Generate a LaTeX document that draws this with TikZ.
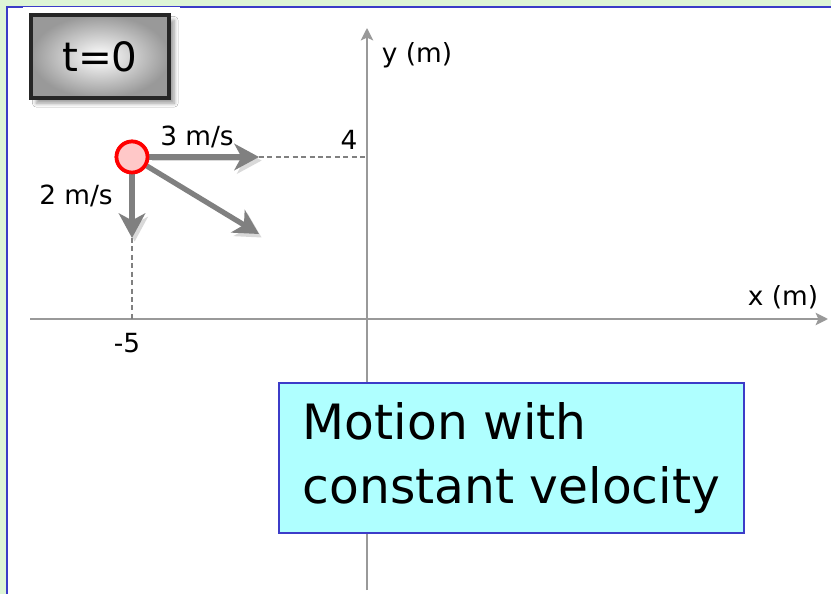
\documentclass[tikz,border=0pt]{standalone}
\usepackage{fontspec}
\setmainfont{DejaVu Sans}
\usetikzlibrary{arrows.meta,shadows.blur}
\definecolor{framegreen}{RGB}{222,245,214}
\definecolor{frameblue}{RGB}{60,60,200}
\definecolor{notecyan}{RGB}{175,255,255}
\definecolor{ballred}{RGB}{255,200,200}

\begin{document}
\begin{tikzpicture}[x=0.02cm, y=-0.02cm,
    axis/.style={draw=black!40, line width=1.6pt, -{Stealth[length=7pt, width=7pt, inset=1.5pt]}},
    varr/.style={draw=black!50, line width=3pt, -{Stealth[length=14pt, width=15pt, inset=4pt]},
                 preaction={draw=black!15, transform canvas={shift={(1.5pt,-2pt)}}}},
    guide/.style={draw=black!50, line width=1.1pt, dash pattern=on 2.8pt off 2pt},
    lbl/.style={font=\fontsize{15}{18}\selectfont, inner sep=0pt},
    clockbox/.style={draw=black!85, line width=1.8pt, inner color=white, outer color=black!40,
                minimum width=2.76cm, minimum height=1.66cm, font=\fontsize{23}{27}\selectfont,
                blur shadow={shadow xshift=3pt, shadow yshift=-3pt, shadow blur steps=6}},
    ball/.style={circle, draw=red, line width=2.1pt, fill=ballred, minimum size=0.62cm, inner sep=0pt},
    note/.style={draw=frameblue, line width=1.1pt, fill=notecyan, align=left,
                 minimum width=9.3cm, minimum height=3cm, inner xsep=0pt,
                 font=\fontsize{27.7}{36.3}\selectfont}
]
    \useasboundingbox (0,0) rectangle (831,594);

    % frame
    \fill[framegreen] (0,0) rectangle (831,594);
    \fill[white] (7,7) rectangle (831,594);
    \draw[frameblue, line width=1.2pt] (7,594) -- (7,7) -- (831,7);
    \fill[white] (23,7) rectangle (180,110);

    \coordinate (o)    at (367,319);
    \coordinate (xmin) at (30,319);
    \coordinate (xmax) at (828,319);
    \coordinate (ymin) at (367,590);
    \coordinate (ymax) at (367,28);
    \draw[axis] (xmin) -- (xmax);
    \draw[axis] (ymin) -- (ymax);

    \node[lbl] (xlab)  at (783,297) {x (m)};
    \node[lbl] (ylab)  at (417,55)  {y (m)};
    \node[lbl] (ytick) at (349,140) {4};
    \node[lbl] (xtick) at (127,343) {-5};

    \node[clockbox] (clock) at (100,56.5) {t=0};

    \node[ball] (ball) at (132,157) {};
    \coordinate (vx) at (259,157);
    \coordinate (vy) at (132,238);
    \coordinate (vv) at (259,234);

    \draw[guide] (vx) -- (vx -| o);
    \draw[guide] (vy) -- (vy |- o);
    \draw[varr] (ball) -- (vx);
    \draw[varr] (ball) -- (vy);
    \draw[varr] (ball) -- (vv);
    \node[ball] at (ball) {};

    \node[lbl] (vxlab) at (197,137) {3 m/s};
    \node[lbl] (vylab) at (76,196)  {2 m/s};

    \node[note] (note) at (511.5,458) {Motion with\\constant velocity};
\end{tikzpicture}
\end{document}
